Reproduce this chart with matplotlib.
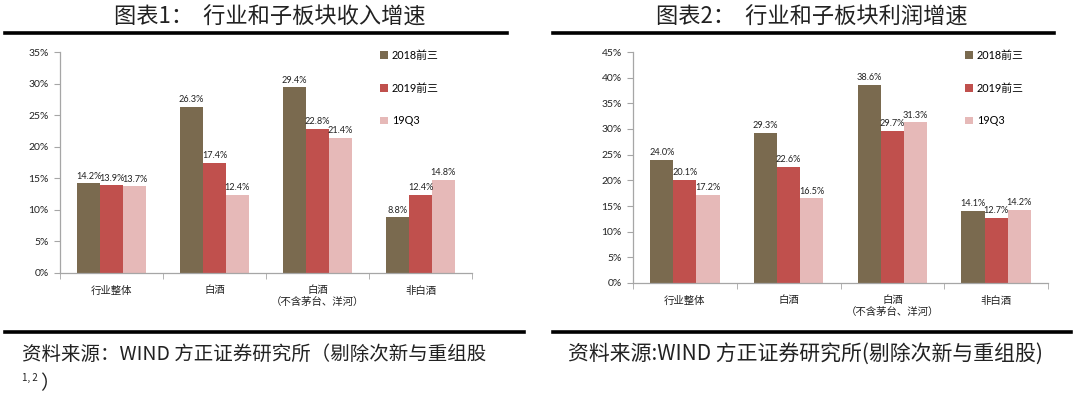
import matplotlib
matplotlib.use("Agg")
import matplotlib.pyplot as plt
import numpy as np
from matplotlib.patches import Patch

plt.rcParams['font.family'] = ['Lato', 'Noto Sans CJK SC', 'DejaVu Sans']

categories = ["行业整体", "白酒", "白酒\n（不含茅台、洋河）", "非白酒"]
series_names = ["2018前三", "2019前三", "19Q3"]
revenue = {
    "2018前三": [14.2, 26.3, 29.4, 8.8],
    "2019前三": [13.9, 17.4, 22.8, 12.4],
    "19Q3": [13.7, 12.4, 21.4, 14.8],
}
profit = {
    "2018前三": [24.0, 29.3, 38.6, 14.1],
    "2019前三": [20.1, 22.6, 29.7, 12.7],
    "19Q3": [17.2, 16.5, 31.3, 14.2],
}
colors = ["#7A6A4F", "#C0504D", "#E6B9B8"]
title_left = "图表1：  行业和子板块收入增速"
title_right = "图表2：  行业和子板块利润增速"
source_left = "资料来源：WIND 方正证券研究所（剔除次新与重组股"
source_right = "资料来源:WIND 方正证券研究所(剔除次新与重组股)"

W, H = 1080, 397
fig = plt.figure(figsize=(W / 100, H / 100), dpi=100)
CJK = ['Noto Sans CJK SC', 'DejaVu Sans']


def px_axes(x0, y_top, x1, y_bot):
    return fig.add_axes([x0 / W, 1 - y_bot / H, (x1 - x0) / W, (y_bot - y_top) / H])


def draw(ax, data, ymax, legend_pos):
    n = len(categories)
    x = np.arange(n)
    bw = 0.223
    for i, name in enumerate(series_names):
        vals = data[name]
        bars = ax.bar(x + (i - 1) * bw, vals, bw, color=colors[i], label=name, zorder=2)
        for b, v in zip(bars, vals):
            ax.text(b.get_x() + b.get_width() / 2, v + ymax * 0.012, f"{v:.1f}%",
                    ha="center", va="bottom", fontsize=6.6, color="#222222")
    ax.set_xlim(-0.5, n - 0.5)
    ax.set_ylim(0, ymax)
    ticks = np.arange(0, ymax + 0.1, 5)
    ax.set_yticks(ticks)
    ax.set_yticklabels([f"{int(t)}%" for t in ticks], fontsize=7.5, color="#222222")
    ax.set_xticks(x)
    ax.set_xticklabels(categories, fontsize=7.5, color="#222222", linespacing=1.15, va="top",
                       family=CJK)
    ax.tick_params(axis="x", length=0, pad=9)
    ax.set_xticks(np.arange(-0.5, n, 1), minor=True)
    ax.tick_params(axis="x", which="minor", length=4, color="#A6A6A6", direction="out")
    ax.tick_params(axis="y", length=4, color="#A6A6A6", direction="out", pad=4)
    for s in ["top", "right"]:
        ax.spines[s].set_visible(False)
    for s in ["left", "bottom"]:
        ax.spines[s].set_color("#A6A6A6")
        ax.spines[s].set_linewidth(0.9)
    handles = [Patch(facecolor=c) for c in colors]
    ax.legend(handles, series_names, loc="upper left", bbox_to_anchor=legend_pos,
              bbox_transform=fig.transFigure, frameon=False, fontsize=7.8,
              handlelength=0.7, handleheight=0.7, handletextpad=0.4, labelspacing=2.0,
              borderpad=0, borderaxespad=0)


axL = px_axes(60, 52, 472, 273)
draw(axL, revenue, 35, (380 / W, 1 - 50 / H))
axR = px_axes(633, 52, 1048, 283)
draw(axR, profit, 45, (965 / W, 1 - 50 / H))

# titles
fig.text(270 / W, 1 - 17 / H, title_left, ha="center", va="center", fontsize=16, color="#222222",
         family=CJK)
fig.text(812 / W, 1 - 17 / H, title_right, ha="center", va="center", fontsize=16, color="#222222",
         family=CJK)

# black rules
for (x0, x1, y) in [(5, 507, 33), (5, 524, 332), (553, 1054, 33), (553, 1071, 332)]:
    fig.add_artist(plt.Line2D([x0 / W, x1 / W], [1 - y / H, 1 - y / H], color="black", lw=2.6))

# source notes
fig.text(22 / W, 1 - 354 / H, source_left, ha="left", va="center", fontsize=14,
         color="#222222", family=CJK)
fig.text(22 / W, 1 - 378 / H, "1, 2", ha="left", va="center", fontsize=7, color="#222222",
         family=CJK)
fig.text(40 / W, 1 - 384 / H, "）", ha="left", va="center", fontsize=14, color="#222222",
         family=CJK)
fig.text(568 / W, 1 - 354 / H, source_right, ha="left", va="center", fontsize=15,
         color="#222222", family=CJK)

fig.savefig("out.png", dpi=100)
